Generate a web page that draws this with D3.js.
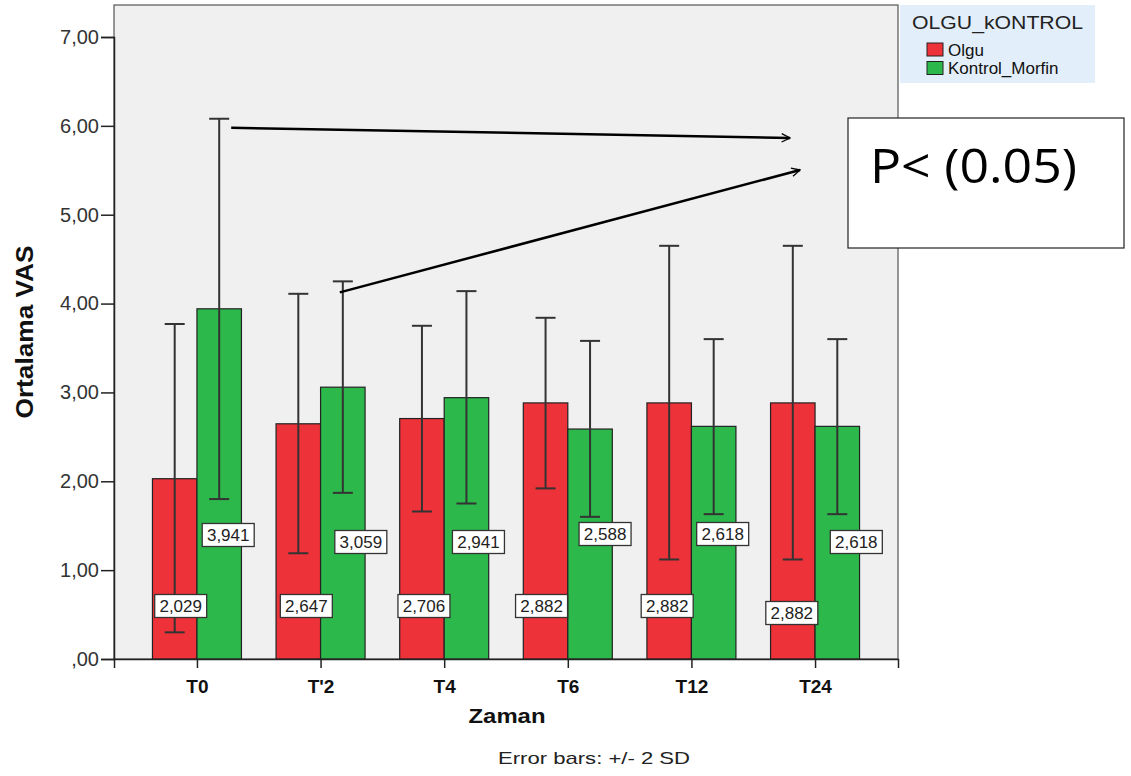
<!DOCTYPE html>
<html lang="tr">
<head>
  <meta charset="UTF-8" />
  <title>Ortalama VAS</title>
  <script src="https://d3js.org/d3.v7.min.js"></script>
  <style>
    body { margin: 0; background: #fff; }
    svg { display: block; font-family: "Liberation Sans", Arial, sans-serif; }
  </style>
</head>
<body>
  <svg width="1131" height="776" id="chart"></svg>
  <script>
    // data
    const categories = ["T0", "T'2", "T4", "T6", "T12", "T24"];
    const seriesNames = ["Olgu", "Kontrol_Morfin"];
    const olguMean = [2.029, 2.647, 2.706, 2.882, 2.882, 2.882];
    const kontrolMean = [3.941, 3.059, 2.941, 2.588, 2.618, 2.618];
    const olguLow = [0.30, 1.19, 1.66, 1.92, 1.12, 1.12];
    const olguHigh = [3.77, 4.11, 3.75, 3.84, 4.65, 4.65];
    const kontrolLow = [1.80, 1.87, 1.75, 1.60, 1.63, 1.63];
    const kontrolHigh = [6.08, 4.25, 4.14, 3.58, 3.60, 3.60];
    const yTicks = [0, 1, 2, 3, 4, 5, 6, 7];
    const yTickLabels = [",00", "1,00", "2,00", "3,00", "4,00", "5,00", "6,00", "7,00"];
    const valueLabels = [
      ["2,029", "2,647", "2,706", "2,882", "2,882", "2,882"],
      ["3,941", "3,059", "2,941", "2,588", "2,618", "2,618"]
    ];

    // layout
    const plot = { left: 114, right: 898, top: 5, bottom: 659 };
    const colors = ["#ee3239", "#2db84b"];
    // SPSS label nudges (dx, y) per series/category
    const labelDx = [[6, 8, 2, -4, -2, -1], [9, 18, 12, 15, 9, 19]];
    const labelY = [[606, 606, 606, 606, 606, 613], [535, 542, 542, 534, 534, 542]];

    const svg = d3.select("#chart");

    const x = d3.scalePoint()
      .domain(categories)
      .range([plot.left, plot.right])
      .padding(0.671);

    const x1 = d3.scaleBand()
      .domain(seriesNames)
      .range([-44.5, 44.5]);

    const y = d3.scaleLinear()
      .domain([0, 7])
      .range([plot.bottom, 37]);

    // plot background
    svg.append("rect")
      .attr("x", plot.left)
      .attr("y", plot.top)
      .attr("width", plot.right - plot.left)
      .attr("height", plot.bottom - plot.top)
      .attr("fill", "#f0f0f0")
      .attr("stroke", "#555")
      .attr("stroke-width", 1.2);

    const means = [olguMean, kontrolMean];
    const lows = [olguLow, kontrolLow];
    const highs = [olguHigh, kontrolHigh];

    const rows = [];
    seriesNames.forEach((s, si) => {
      categories.forEach((c, ci) => {
        rows.push({
          s, si, c, ci,
          mean: means[si][ci],
          low: lows[si][ci],
          high: highs[si][ci],
          label: valueLabels[si][ci]
        });
      });
    });

    // bars
    svg.append("g").selectAll("rect")
      .data(rows)
      .join("rect")
      .attr("x", d => x(d.c) + x1(d.s))
      .attr("y", d => y(d.mean))
      .attr("width", x1.bandwidth())
      .attr("height", d => y(0) - y(d.mean))
      .attr("fill", d => colors[d.si])
      .attr("stroke", "#222")
      .attr("stroke-width", 1.2);

    // error bars
    const eb = svg.append("g")
      .attr("stroke", "#333")
      .attr("stroke-width", 2);
    const cx = d => x(d.c) + x1(d.s) + x1.bandwidth() / 2;
    eb.selectAll("line.v").data(rows).join("line")
      .attr("class", "v")
      .attr("x1", cx).attr("x2", cx)
      .attr("y1", d => y(d.low)).attr("y2", d => y(d.high));
    eb.selectAll("line.t").data(rows).join("line")
      .attr("class", "t")
      .attr("x1", d => cx(d) - 10).attr("x2", d => cx(d) + 10)
      .attr("y1", d => y(d.high)).attr("y2", d => y(d.high));
    eb.selectAll("line.b").data(rows).join("line")
      .attr("class", "b")
      .attr("x1", d => cx(d) - 10).attr("x2", d => cx(d) + 10)
      .attr("y1", d => y(d.low)).attr("y2", d => y(d.low));

    // value labels
    const lab = svg.append("g").selectAll("g")
      .data(rows)
      .join("g")
      .attr("transform", d => `translate(${cx(d) + labelDx[d.si][d.ci]},${labelY[d.si][d.ci]})`);
    lab.append("rect")
      .attr("x", -26).attr("y", -11.5)
      .attr("width", 52).attr("height", 23)
      .attr("fill", "#fff")
      .attr("stroke", "#333")
      .attr("stroke-width", 1.3);
    lab.append("text")
      .attr("text-anchor", "middle")
      .attr("dy", "0.36em")
      .attr("font-size", 17)
      .attr("fill", "#222")
      .text(d => d.label);

    // y axis
    const yAxis = svg.append("g")
      .attr("transform", `translate(${plot.left},0)`)
      .call(d3.axisLeft(y).tickValues(yTicks).tickSize(13).tickPadding(2)
        .tickFormat((d, i) => yTickLabels[i]));
    yAxis.select(".domain").attr("stroke", "#222").attr("stroke-width", 1.5);
    yAxis.selectAll(".tick line").attr("stroke", "#222").attr("stroke-width", 1.5);
    yAxis.selectAll(".tick text")
      .attr("font-size", 20)
      .attr("fill", "#333")
      .attr("font-family", "'Liberation Sans', Arial, sans-serif");

    // x axis
    const xAxis = svg.append("g")
      .attr("transform", `translate(0,${plot.bottom})`)
      .call(d3.axisBottom(x).tickSize(9).tickPadding(12));
    xAxis.select(".domain").attr("stroke", "#222").attr("stroke-width", 1.5);
    xAxis.selectAll(".tick line").attr("stroke", "#222").attr("stroke-width", 1.5);
    xAxis.selectAll(".tick text")
      .attr("font-size", 19)
      .attr("font-weight", "bold")
      .attr("fill", "#111")
      .attr("font-family", "'Liberation Sans', Arial, sans-serif");

    // axis titles
    svg.append("text")
      .attr("transform", "translate(33,332) rotate(-90)")
      .attr("text-anchor", "middle")
      .attr("font-size", 24)
      .attr("font-weight", "bold")
      .attr("fill", "#111")
      .attr("textLength", 173)
      .attr("lengthAdjust", "spacingAndGlyphs")
      .text("Ortalama VAS");

    svg.append("text")
      .attr("x", 507).attr("y", 723)
      .attr("text-anchor", "middle")
      .attr("font-size", 21)
      .attr("font-weight", "bold")
      .attr("fill", "#111")
      .attr("textLength", 77)
      .attr("lengthAdjust", "spacingAndGlyphs")
      .text("Zaman");

    svg.append("text")
      .attr("x", 594).attr("y", 764)
      .attr("text-anchor", "middle")
      .attr("font-size", 17)
      .attr("fill", "#222")
      .attr("textLength", 192)
      .attr("lengthAdjust", "spacingAndGlyphs")
      .text("Error bars: +/- 2 SD");

    // legend
    const lg = svg.append("g");
    lg.append("rect")
      .attr("x", 900).attr("y", 5)
      .attr("width", 195).attr("height", 78)
      .attr("fill", "#e2eef9");
    lg.append("text")
      .attr("x", 912).attr("y", 29)
      .attr("font-size", 19)
      .attr("fill", "#222")
      .attr("textLength", 171)
      .attr("lengthAdjust", "spacingAndGlyphs")
      .text("OLGU_kONTROL");
    seriesNames.forEach((s, i) => {
      lg.append("rect")
        .attr("x", 927).attr("y", 43 + i * 18.5)
        .attr("width", 16).attr("height", 13)
        .attr("fill", colors[i])
        .attr("stroke", "#222");
      lg.append("text")
        .attr("x", 948).attr("y", 55.5 + i * 18.5)
        .attr("font-size", 17)
        .attr("fill", "#111")
        .text(s);
    });

    // annotation arrows
    const defs = svg.append("defs");
    defs.append("marker")
      .attr("id", "arrow")
      .attr("viewBox", "0 0 12 12")
      .attr("refX", 11).attr("refY", 6)
      .attr("markerWidth", 10).attr("markerHeight", 10)
      .attr("markerUnits", "userSpaceOnUse")
      .attr("orient", "auto")
      .append("path")
      .attr("d", "M1,1 L11,6 L1,11")
      .attr("fill", "none")
      .attr("stroke", "#000")
      .attr("stroke-width", 1.6);

    const k0 = rows.find(d => d.si === 1 && d.ci === 0);
    const k1 = rows.find(d => d.si === 1 && d.ci === 1);
    svg.append("line")
      .attr("x1", cx(k0) + 12).attr("y1", y(k0.high) + 9)
      .attr("x2", 790).attr("y2", 138)
      .attr("stroke", "#000").attr("stroke-width", 2.5)
      .attr("marker-end", "url(#arrow)");
    svg.append("line")
      .attr("x1", cx(k1) - 3).attr("y1", y(k1.high) + 11)
      .attr("x2", 800).attr("y2", 170)
      .attr("stroke", "#000").attr("stroke-width", 2.5)
      .attr("marker-end", "url(#arrow)");

    // p value box
    svg.append("rect")
      .attr("x", 848).attr("y", 118)
      .attr("width", 276).attr("height", 130)
      .attr("fill", "#fff")
      .attr("stroke", "#222")
      .attr("stroke-width", 1.2);
    svg.append("text")
      .attr("x", 870).attr("y", 183)
      .attr("font-size", 48)
      .attr("font-family", "'Open Sans', 'Noto Sans', sans-serif")
      .attr("fill", "#000")
      .attr("textLength", 207)
      .attr("lengthAdjust", "spacingAndGlyphs")
      .text("P< (0.05)");
  </script>
</body>
</html>
